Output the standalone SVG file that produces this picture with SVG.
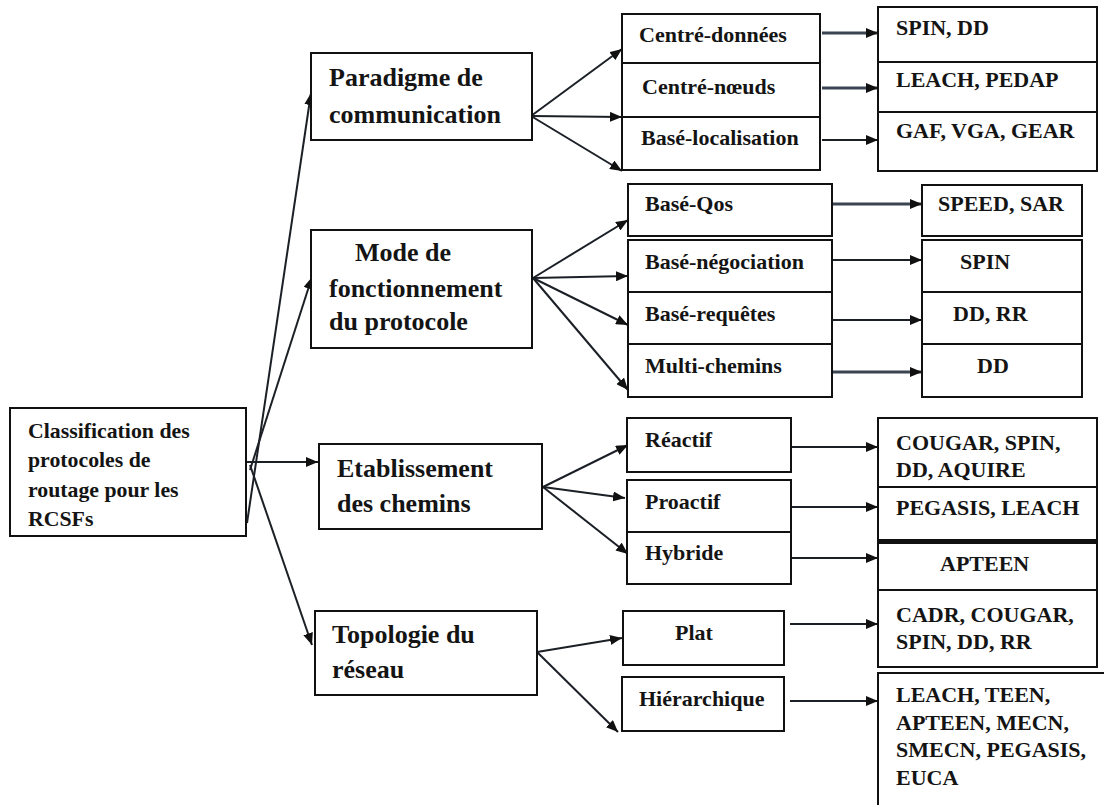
<svg xmlns="http://www.w3.org/2000/svg" width="1104" height="805" viewBox="0 0 1104 805">
  <style>
    .box { fill: #ffffff; stroke: #111111; stroke-width: 2; }
    .t { font-family: "Liberation Serif", "Times New Roman", serif; font-weight: bold; fill: #141414; }
    .l1 { font-size: 26px; }
    .s { font-size: 22px; }
    .r { font-size: 21.8px; }
    .link { fill: none; stroke: #1b1f26; stroke-width: 2; marker-end: url(#arrow); }
    .heavy { stroke: #3b4552; stroke-width: 3; }
  </style>
  <defs>
    <marker id="arrow" markerUnits="userSpaceOnUse" markerWidth="13" markerHeight="10" refX="12" refY="5" orient="auto">
      <path d="M0,0 L12,5 L0,10 Z" fill="#111111"/>
    </marker>
  </defs>
  <rect width="1104" height="805" fill="#ffffff"/>

  <!-- connectors -->
  <g id="connectors">
    <!-- root fan -->
    <path class="link" d="M247,523 L311,93"/>
    <path class="link" d="M250,470 L312,277"/>
    <path class="link" d="M246,462 L318,462"/>
    <path class="link" d="M250,465 L312,645"/>
    <!-- paradigme -->
    <path class="link" d="M531,116 L622,49"/>
    <path class="link" d="M531,116 L622,117"/>
    <path class="link" d="M531,116 L622,171"/>
    <!-- mode -->
    <path class="link" d="M533,278 L628,220"/>
    <path class="link" d="M533,278 L628,276"/>
    <path class="link" d="M533,278 L628,325"/>
    <path class="link" d="M533,278 L628,390"/>
    <!-- etablissement -->
    <path class="link" d="M543,487 L628,445"/>
    <path class="link" d="M543,487 L625,498"/>
    <path class="link" d="M543,487 L628,554"/>
    <!-- topologie -->
    <path class="link" d="M537,652 L622,638"/>
    <path class="link" d="M537,652 L618,732"/>
    <!-- second to third column -->
    <path class="link heavy" d="M822,33 L878,33"/>
    <path class="link heavy" d="M822,88 L878,88"/>
    <path class="link" d="M822,140 L878,140"/>
    <path class="link heavy" d="M833,204 L922,204"/>
    <path class="link" d="M833,260 L922,260"/>
    <path class="link" d="M833,320 L922,320"/>
    <path class="link heavy" d="M833,372 L922,372"/>
    <path class="link" d="M792,447 L878,447"/>
    <path class="link" d="M792,507 L878,507"/>
    <path class="link" d="M792,558 L878,558"/>
    <path class="link" d="M790,624 L878,624"/>
    <path class="link" d="M790,701 L878,701"/>
  </g>

  <!-- root -->
  <g id="root">
    <rect class="box" x="10" y="408" width="236" height="128"/>
    <text class="t r" x="28" y="438">Classification des</text>
    <text class="t r" x="28" y="467">protocoles de</text>
    <text class="t r" x="28" y="497">routage pour les</text>
    <text class="t r" x="28" y="526">RCSFs</text>
  </g>

  <!-- first level -->
  <g id="paradigme">
    <rect class="box" x="311" y="53" width="221" height="87"/>
    <text class="t l1" x="329" y="86">Paradigme de</text>
    <text class="t l1" x="329" y="123">communication</text>
  </g>
  <g id="mode">
    <rect class="box" x="311" y="230" width="221" height="118"/>
    <text class="t l1" x="355" y="261">Mode de</text>
    <text class="t l1" x="329" y="297">fonctionnement</text>
    <text class="t l1" x="329" y="330">du protocole</text>
  </g>
  <g id="etablissement">
    <rect class="box" x="319" y="444" width="223" height="85"/>
    <text class="t l1" x="337" y="477">Etablissement</text>
    <text class="t l1" x="337" y="512">des chemins</text>
  </g>
  <g id="topologie">
    <rect class="box" x="315" y="611" width="222" height="84"/>
    <text class="t l1" x="332" y="643">Topologie du</text>
    <text class="t l1" x="332" y="678">réseau</text>
  </g>

  <!-- second level -->
  <g id="centre-donnees">
    <rect class="box" x="622" y="14" width="198" height="49"/>
    <text class="t s" x="639" y="42">Centré-données</text>
  </g>
  <g id="centre-noeuds">
    <rect class="box" x="622" y="63" width="198" height="54"/>
    <text class="t s" x="642" y="94">Centré-nœuds</text>
  </g>
  <g id="base-localisation">
    <rect class="box" x="622" y="117" width="198" height="53"/>
    <text class="t s" x="641" y="145">Basé-localisation</text>
  </g>
  <g id="base-qos">
    <rect class="box" x="628" y="184" width="204" height="52"/>
    <text class="t s" x="645" y="211">Basé-Qos</text>
  </g>
  <g id="base-negociation">
    <rect class="box" x="628" y="240" width="204" height="52"/>
    <text class="t s" x="645" y="269">Basé-négociation</text>
  </g>
  <g id="base-requetes">
    <rect class="box" x="628" y="292" width="204" height="52"/>
    <text class="t s" x="645" y="321">Basé-requêtes</text>
  </g>
  <g id="multi-chemins">
    <rect class="box" x="628" y="344" width="204" height="53"/>
    <text class="t s" x="645" y="373">Multi-chemins</text>
  </g>
  <g id="reactif">
    <rect class="box" x="627" y="418" width="164" height="54"/>
    <text class="t s" x="645" y="447">Réactif</text>
  </g>
  <g id="proactif">
    <rect class="box" x="627" y="480" width="164" height="52"/>
    <text class="t s" x="645" y="509">Proactif</text>
  </g>
  <g id="hybride">
    <rect class="box" x="627" y="532" width="164" height="52"/>
    <text class="t s" x="645" y="560">Hybride</text>
  </g>
  <g id="plat">
    <rect class="box" x="623" y="611" width="161" height="54"/>
    <text class="t s" x="675" y="640">Plat</text>
  </g>
  <g id="hierarchique">
    <rect class="box" x="622" y="677" width="162" height="54"/>
    <text class="t s" x="639" y="706">Hiérarchique</text>
  </g>

  <!-- protocols -->
  <g id="p-spin-dd">
    <rect class="box" x="878" y="7" width="219" height="55"/>
    <text class="t s" x="896" y="35">SPIN, DD</text>
  </g>
  <g id="p-leach-pedap">
    <rect class="box" x="878" y="62" width="219" height="50"/>
    <text class="t s" x="896" y="87">LEACH, PEDAP</text>
  </g>
  <g id="p-gaf">
    <rect class="box" x="878" y="112" width="219" height="59"/>
    <text class="t s" x="896" y="138">GAF, VGA, GEAR</text>
  </g>
  <g id="p-speed">
    <rect class="box" x="922" y="185" width="160" height="51"/>
    <text class="t s" x="938" y="211">SPEED, SAR</text>
  </g>
  <g id="p-spin">
    <rect class="box" x="922" y="240" width="160" height="52"/>
    <text class="t s" x="960" y="269">SPIN</text>
  </g>
  <g id="p-dd-rr">
    <rect class="box" x="922" y="292" width="160" height="52"/>
    <text class="t s" x="953" y="321">DD, RR</text>
  </g>
  <g id="p-dd">
    <rect class="box" x="922" y="344" width="160" height="53"/>
    <text class="t s" x="977" y="373">DD</text>
  </g>
  <g id="p-cougar">
    <rect class="box" x="878" y="418" width="219" height="69"/>
    <text class="t s" x="896" y="450">COUGAR, SPIN,</text>
    <text class="t s" x="896" y="477">DD, AQUIRE</text>
  </g>
  <g id="p-pegasis">
    <rect class="box" x="878" y="487" width="219" height="54"/>
    <line x1="878" y1="541" x2="1097" y2="541" stroke="#111111" stroke-width="4"/>
    <text class="t s" x="896" y="515">PEGASIS, LEACH</text>
  </g>
  <g id="p-apteen">
    <rect class="box" x="878" y="543" width="219" height="47"/>
    <text class="t s" x="940" y="571">APTEEN</text>
  </g>
  <g id="p-cadr">
    <rect class="box" x="878" y="590" width="219" height="77"/>
    <text class="t s" x="896" y="622">CADR, COUGAR,</text>
    <text class="t s" x="896" y="649">SPIN, DD, RR</text>
  </g>
  <g id="p-leach-teen">
    <rect class="box" x="878" y="673" width="260" height="160"/>
    <text class="t s" x="896" y="702">LEACH, TEEN,</text>
    <text class="t s" x="896" y="730">APTEEN, MECN,</text>
    <text class="t s" x="896" y="757">SMECN, PEGASIS,</text>
    <text class="t s" x="896" y="785">EUCA</text>
  </g>
</svg>
